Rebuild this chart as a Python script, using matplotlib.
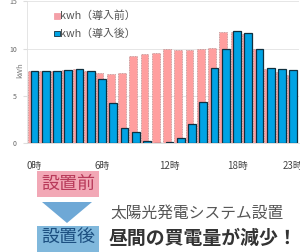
import matplotlib
matplotlib.use("Agg")
import matplotlib.pyplot as plt
from matplotlib.patches import Rectangle, Polygon
import numpy as np

plt.rcParams['font.family'] = ['Noto Sans CJK JP', 'DejaVu Sans']

hours = list(range(24))
before = [7.6, 7.6, 7.6, 7.7, 7.8, 7.6, 7.45, 7.3, 7.45, 9.2, 9.4, 9.55,
          9.9, 9.85, 9.85, 9.9, 10.1, 11.7, 11.7, 11.5, 9.9, 7.8, 7.55, 7.2]
after = [7.6, 7.6, 7.6, 7.7, 7.8, 7.6, 6.8, 4.2, 1.6, 1.2, 0.2, 0.05,
         0.15, 0.5, 2.0, 4.3, 7.9, 10.0, 11.85, 11.6, 10.0, 7.9, 7.8, 7.7]
xtick_pos = [0, 6, 12, 18, 23]
xtick_labels = ['0時', '6時', '12時', '18時', '23時']
yticks = [0, 5, 10, 15]
legend_labels = ['kwh（導入前）', 'kwh（導入後）']

W, H = 300, 252
fig = plt.figure(figsize=(W / 100, H / 100), dpi=100)
ax = fig.add_axes([26.6 / W, 109 / H, 272.3 / W, 141.75 / H])

x = np.array(hours)
ax.bar(x - 0.22, before, width=0.7, color='#ff9e9e', edgecolor='#b89090',
       linewidth=0.6, linestyle=(0, (1, 1)), zorder=2)
ax.bar(x, after, width=0.68, color='#00a3e4', edgecolor='#10303f',
       linewidth=0.9, zorder=3)

ax.set_xlim(-0.7, 23.5)
ax.set_ylim(0, 15)
ax.set_yticks(yticks)
ax.set_xticks(xtick_pos)
ax.set_xticklabels(xtick_labels, fontsize=7, color='#444444')
ax.tick_params(axis='x', length=0, pad=13)
ax.tick_params(axis='y', length=3, color='#dddddd', labelsize=5, labelcolor='#666666', pad=4)
ax.yaxis.grid(True, color='#e6e6e6', linewidth=0.7, zorder=0)
ax.set_axisbelow(True)
for s in ['top', 'right']:
    ax.spines[s].set_visible(False)
ax.spines['left'].set_color('#e0e0e0')
ax.spines['left'].set_linewidth(0.6)
ax.spines['bottom'].set_color('#d8d8d8')
ax.spines['bottom'].set_linewidth(0.6)

fig.text(20 / W, 1 - 70 / H, 'kWh', rotation=90, fontsize=5.5, color='#777777',
         ha='center', va='center')

# legend
for i, (lab, col, ec) in enumerate(zip(legend_labels, ['#f4a0a8', '#00a3e4'], ['#f4a0a8', '#10303f'])):
    yc = 16 + i * 17.5
    fig.patches.append(Rectangle((54 / W, 1 - (yc + 2.8) / H), 5.5 / W, 5.5 / H,
                                 transform=fig.transFigure, facecolor=col,
                                 edgecolor=ec, linewidth=0.6))
    fig.text(60 / W, 1 - yc / H, lab, fontsize=7.8, color='#555555',
             ha='left', va='center')

# bottom annotation
fig.patches.append(Rectangle((37 / W, 1 - 197 / H), 62 / W, 26 / H,
                             transform=fig.transFigure, facecolor='#f2a8b6',
                             edgecolor='none'))
fig.text(68 / W, 1 - 184 / H, '設置前', fontsize=13, color='#b83a5a',
         ha='center', va='center')
fig.patches.append(Polygon([(42 / W, 1 - 202 / H), (92 / W, 1 - 202 / H), (67 / W, 1 - 223 / H)],
                           closed=True, transform=fig.transFigure,
                           facecolor='#6ea8d6', edgecolor='none'))
fig.patches.append(Rectangle((37 / W, 1 - 252 / H), 62 / W, 26 / H,
                             transform=fig.transFigure, facecolor='#80b8dc',
                             edgecolor='none'))
fig.text(68 / W, 1 - 238 / H, '設置後', fontsize=13, color='#1c4f80',
         ha='center', va='center')
fig.text(110 / W, 1 - 213 / H, '太陽光発電システム設置', fontsize=11.3, color='#555555',
         ha='left', va='center')
fig.text(109 / W, 1 - 238 / H, '昼間の買電量が減少！', fontsize=13.6, color='#333333',
         fontweight='bold', ha='left', va='center')

fig.savefig('out.png', dpi=100)
